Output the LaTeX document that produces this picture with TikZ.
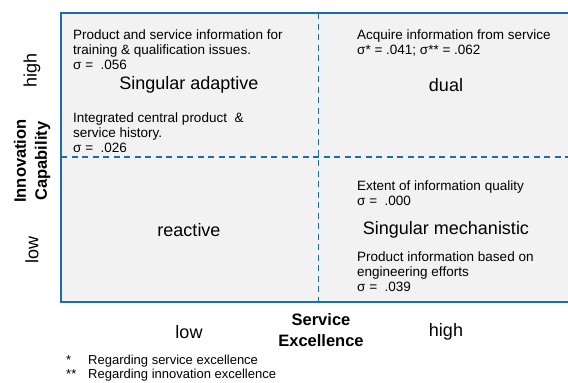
\documentclass[tikz,border=0pt]{standalone}
\usepackage{fontspec}
\setmainfont{Liberation Sans}
\definecolor{gridblue}{RGB}{28,108,180}
\definecolor{cellgray}{RGB}{242,242,242}
\tikzset{
  body/.style={anchor=base west, inner sep=0, align=left, font=\fontsize{13.5}{15}\selectfont},
  big/.style={inner sep=0, font=\fontsize{18}{20}\selectfont},
  axis/.style={inner sep=0, align=center, font=\fontsize{16.5}{21}\selectfont\bfseries},
  note/.style={anchor=base west, inner sep=0, font=\fontsize{13}{14}\selectfont},
}
\begin{document}
\begin{tikzpicture}[x=1pt, y=-1pt]
\useasboundingbox (0,0) rectangle (568,383);
\fill[cellgray] (61,13) rectangle (570,302);
\coordinate (tl) at (61,13);
\coordinate (tr) at (570,13);
\coordinate (bl) at (61,302);
\coordinate (br) at (570,302);
\coordinate (vtop) at (318.5,13);
\coordinate (vbot) at (318.5,302);
\coordinate (hleft) at (61,157);
\coordinate (hright) at (570,157);
\draw[gridblue, line width=1.5pt, dash pattern=on 6pt off 4.5pt](vtop) -- (vbot);
\draw[gridblue, line width=1.5pt, dash pattern=on 6pt off 4.5pt](hleft) -- (hright);
\draw[gridblue, line width=2.2pt](tr) -- (tl) -- (bl) -- (br);

% base of a multi-line node is its last line
\node[body] (adapt1) at (73,69.5){Product and service information for\\training \& qualification issues.\\σ =\ \ .056};
\node[big] (adapt) at (189,85){Singular adaptive};
\node[body] (adapt2) at (73,152){Integrated central product\ \ \&\\service history.\\σ =\ \ .026};

\node[body] (dual1) at (357,54){Acquire information from service\\σ* = .041; σ** = .062};
\node[big] (dual) at (446,85){dual};

\node[big] (react) at (189,230){reactive};

\node[body] (mech1) at (357,205){Extent of information quality\\σ =\ \ .000};
\node[big] (mech) at (446,230){Singular mechanistic};
\node[body] (mech2) at (357,291.5){Product information based on\\engineering efforts\\σ =\ \ .039};

\node[big, rotate=90] (ihigh) at (32,70){high};
\node[axis, rotate=90] (innov) at (32,161){Innovation\\Capability};
\node[big, rotate=90] (ilow) at (32,250){low};

\node[big] (slow) at (189,332){low};
\node[axis] (serv) at (321,330){Service\\Excellence};
\node[big] (shigh) at (446,332){high};

\node[note] (star1) at (66,364.5){*};
\node[note] (foot1) at (88,364.5){Regarding service excellence};
\node[note] (star2) at (66,378){**};
\node[note] (foot2) at (88,378){Regarding innovation excellence};
\end{tikzpicture}
\end{document}
